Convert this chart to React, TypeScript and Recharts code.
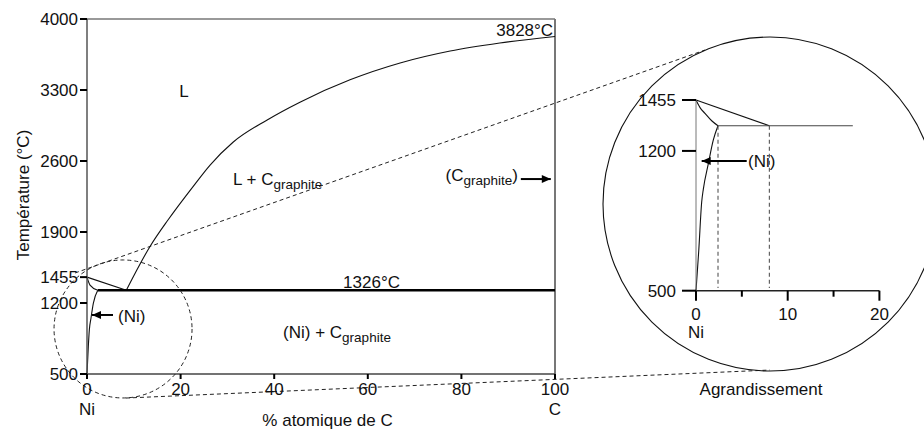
import React from "react";
import { ComposedChart, Line, XAxis, YAxis, ReferenceLine, ReferenceDot } from "recharts";

const FONT = "'Liberation Sans', Arial, Helvetica, sans-serif";

// ---- main diagram: at.% C vs temperature (°C)
const mainXTicks = [0, 20, 40, 60, 80, 100];
const mainXNames = ["Ni", "", "", "", "", "C"];
const mainYTicks = [500, 1200, 1455, 1900, 2600, 3300, 4000];

const niLiquidus = [
  { x: 0, t: 1455 },
  { x: 8.4, t: 1326 },
];
const niSolidus = [
  { x: 0, t: 1455 },
  { x: 0.64, t: 1377 },
  { x: 2.3, t: 1326 },
];
const niSolvus = [
  { x: 0, t: 500 },
  { x: 0.28, t: 770 },
  { x: 0.5, t: 935 },
  { x: 0.85, t: 1050 },
  { x: 1.35, t: 1197 },
  { x: 2.3, t: 1326 },
];
const eutectic = [
  { x: 2.3, t: 1326 },
  { x: 100, t: 1326 },
];
const graphiteLiquidus = [
  { x: 8.4, t: 1326 },
  { x: 13.5, t: 1760 },
  { x: 17.3, t: 2018 },
  { x: 22.7, t: 2350 },
  { x: 26.3, t: 2560 },
  { x: 31.2, t: 2785 },
  { x: 38.5, t: 3005 },
  { x: 45.5, t: 3180 },
  { x: 56.2, t: 3400 },
  { x: 66.9, t: 3566 },
  { x: 77.6, t: 3684 },
  { x: 88.2, t: 3763 },
  { x: 100, t: 3828 },
];
const niArrowMain = [
  { x: 5.56, t: 1082 },
  { x: 1.07, t: 1082 },
];
const graphiteArrow = [
  { x: 92.7, t: 2422 },
  { x: 99.1, t: 2422 },
];
// magnifier lens and its connectors (data coordinates of the main diagram)
const lens = { x: 7.7, t: 944 };
const upperConnector = [
  { x: -2.56, y: 1496 },
  { x: 132.05, y: 3694 },
];
const lowerConnector = [
  { x: 8.33, y: 263 },
  { x: 145.9, y: 539 },
];

// ---- enlarged view (0-20 at.% C)
const zoomXTicks = [0, 5, 10, 15, 20];
const zoomMajor = [0, 10, 20];
const zoomYTicks = [500, 1200, 1455];

const zLiquidus = [
  { x: 0, t: 1455 },
  { x: 8.0, t: 1326 },
];
const zSolidus = [
  { x: 0, t: 1455 },
  { x: 0.44, t: 1417 },
  { x: 0.98, t: 1388 },
  { x: 1.71, t: 1351 },
  { x: 2.4, t: 1326 },
];
const zSolvus = [
  { x: 0, t: 500 },
  { x: 0.3, t: 700 },
  { x: 0.62, t: 944 },
  { x: 0.8, t: 1009 },
  { x: 1.34, t: 1135 },
  { x: 1.89, t: 1255 },
  { x: 2.4, t: 1326 },
];
const zEutectic = [
  { x: 2.4, t: 1326 },
  { x: 17.1, t: 1326 },
];
const zDropLeft = [
  { x: 2.4, t: 1326 },
  { x: 2.4, t: 513 },
];
const zDropRight = [
  { x: 8.0, t: 1326 },
  { x: 8.0, t: 513 },
];
const zArrow = [
  { x: 5.53, t: 1150 },
  { x: 0.62, t: 1150 },
];
const zLens = { x: 8.07, t: 934 };

const arrowHead = (dir: number) => (p: any) => {
  if (p.index !== 1) return <g key={"a" + p.index} />;
  const { cx, cy } = p;
  return (
    <path
      key="head"
      d={`M${cx},${cy} L${cx - dir * 9},${cy - 4} L${cx - dir * 9},${cy + 4} Z`}
      fill="#000"
    />
  );
};

const note = (
  key: string,
  x: number,
  t: number,
  content: React.ReactNode,
  anchor: string = "start",
  rotate = false
) => (
  <ReferenceDot
    key={key}
    x={x}
    y={t}
    r={0}
    ifOverflow="visible"
    shape={(p: any) => (
      <text
        x={p.cx}
        y={p.cy}
        textAnchor={anchor}
        fontSize={17}
        fontFamily={FONT}
        fill="#111"
        transform={rotate ? `rotate(-90 ${p.cx} ${p.cy})` : undefined}
      >
        {content}
      </text>
    )}
  />
);

const sub = (txt: string) => [
  <tspan key="s" dy={4} fontSize={13.5}>
    {txt}
  </tspan>,
];

function mainXTick(p: any) {
  const { x, y, payload, index } = p;
  return (
    <g key={"mx" + index}>
      <line x1={x} y1={y} x2={x} y2={y + 5} stroke="#000" strokeWidth={2} />
      <text x={x} y={y + 21} textAnchor="middle" fontSize={17} fontFamily={FONT} fill="#111">
        {payload.value}
      </text>
      {mainXNames[index] ? (
        <text x={x} y={y + 41} textAnchor="middle" fontSize={17} fontFamily={FONT} fill="#111">
          {mainXNames[index]}
        </text>
      ) : null}
    </g>
  );
}

function zoomXTick(p: any) {
  const { x, y, payload, index } = p;
  const major = zoomMajor.includes(payload.value);
  return (
    <g key={"zx" + index}>
      <line x1={x} y1={y} x2={x} y2={y + (major ? 10 : 6)} stroke="#000" strokeWidth={2} />
      {major ? (
        <text x={x} y={y + 29.5} textAnchor="middle" fontSize={17} fontFamily={FONT} fill="#111">
          {payload.value}
        </text>
      ) : null}
      {payload.value === 0 ? (
        <text x={x} y={y + 47.5} textAnchor="middle" fontSize={17} fontFamily={FONT} fill="#111">
          Ni
        </text>
      ) : null}
    </g>
  );
}

const lineProps = {
  dataKey: "t",
  dot: false,
  activeDot: false,
  isAnimationActive: false,
  stroke: "#111",
  strokeWidth: 1.1,
};

function MainDiagram() {
  return (
    <ComposedChart width={924} height={430} margin={{ top: 19, right: 369, bottom: 26, left: 27 }}>
      <XAxis
        type="number"
        dataKey="x"
        domain={[0, 100]}
        ticks={mainXTicks}
        interval={0}
        height={30}
        axisLine={{ stroke: "#444", strokeWidth: 1.5 }}
        tickLine={false}
        tickSize={0}
        tickMargin={0}
        tick={mainXTick}
      />
      <YAxis
        type="number"
        domain={[500, 4000]}
        ticks={mainYTicks}
        interval={0}
        width={60}
        axisLine={{ stroke: "#555", strokeWidth: 1.5 }}
        tickLine={{ stroke: "#000", strokeWidth: 2 }}
        tickSize={7}
        tickMargin={2}
        tick={{ fill: "#111", fontSize: 17, fontFamily: FONT }}
      />
      <ReferenceLine y={4000} stroke="#777" strokeWidth={1.5} />
      <ReferenceLine x={100} stroke="#777" strokeWidth={2} />

      <Line data={niLiquidus} type="linear" {...lineProps} />
      <Line data={niSolidus} type="monotone" {...lineProps} />
      <Line data={niSolvus} type="monotone" {...lineProps} />
      <Line data={graphiteLiquidus} type="monotone" {...lineProps} />
      <Line data={eutectic} type="linear" {...lineProps} stroke="#000" strokeWidth={2.6} />
      <Line data={niArrowMain} type="linear" {...lineProps} stroke="#000" strokeWidth={2} dot={arrowHead(-1)} />
      <Line data={graphiteArrow} type="linear" {...lineProps} stroke="#000" strokeWidth={2} dot={arrowHead(1)} />

      <ReferenceDot
        x={lens.x}
        y={lens.t}
        r={69}
        ifOverflow="visible"
        fill="none"
        stroke="#222"
        strokeWidth={1}
        strokeDasharray="4 3"
      />
      <ReferenceLine segment={upperConnector} ifOverflow="visible" stroke="#222" strokeDasharray="4 3" />
      <ReferenceLine segment={lowerConnector} ifOverflow="visible" stroke="#222" strokeDasharray="4 3" />

      {note("L", 20.7, 3231, "L", "middle")}
      {note("LC", 31.2, 2363, ["L + C", ...sub("graphite")])}
      {note(
        "Cg",
        92.1,
        2403,
        [
          "(C",
          ...sub("graphite"),
          <tspan key="c" dy={-4}>
            )
          </tspan>,
        ],
        "end"
      )}
      {note("tm", 99.6, 3832, "3828°C", "end")}
      {note("te", 60.8, 1348, "1326°C", "middle")}
      {note("NiC", 41.9, 855, ["(Ni) + C", ...sub("graphite")])}
      {note("Ni", 6.62, 1016, "(Ni)")}
      {note("yt", -12.39, 2265, "Température (°C)", "middle", true)}
      {note("xt", 51.4, -13, "% atomique de C", "middle")}
    </ComposedChart>
  );
}

function ZoomDiagram() {
  return (
    <ComposedChart width={924} height={430} margin={{ top: 100, right: 44.6, bottom: 109.3, left: 636 }}>
      <XAxis
        type="number"
        dataKey="x"
        domain={[0, 20]}
        ticks={zoomXTicks}
        interval={0}
        height={30}
        axisLine={{ stroke: "#222", strokeWidth: 1.5 }}
        tickLine={false}
        tickSize={0}
        tickMargin={0}
        tick={zoomXTick}
      />
      <YAxis
        type="number"
        domain={[500, 1455]}
        ticks={zoomYTicks}
        interval={0}
        width={60}
        axisLine={{ stroke: "#777", strokeWidth: 1 }}
        tickLine={{ stroke: "#000", strokeWidth: 2 }}
        tickSize={14}
        tickMargin={6}
        tick={{ fill: "#111", fontSize: 17, fontFamily: FONT }}
      />

      <Line data={zLiquidus} type="linear" {...lineProps} />
      <Line data={zSolidus} type="monotone" {...lineProps} />
      <Line data={zSolvus} type="monotone" {...lineProps} />
      <Line data={zEutectic} type="linear" {...lineProps} stroke="#444" />
      <Line data={zDropLeft} type="linear" {...lineProps} stroke="#555" strokeDasharray="4 3" />
      <Line data={zDropRight} type="linear" {...lineProps} stroke="#555" strokeDasharray="4 3" />
      <Line data={zArrow} type="linear" {...lineProps} stroke="#000" strokeWidth={2} dot={arrowHead(-1)} />

      <ReferenceDot
        x={zLens.x}
        y={zLens.t}
        r={167}
        ifOverflow="visible"
        fill="none"
        stroke="#111"
        strokeWidth={1.1}
      />

      {note("zNi", 5.67, 1121, "(Ni)")}
      {note("ag", 7.09, -22, "Agrandissement", "middle")}
    </ComposedChart>
  );
}

export default function App() {
  return (
    <div style={{ position: "absolute", left: 0, top: 0, width: 924, height: 430, background: "#fff" }}>
      <div style={{ position: "absolute", left: 0, top: 0 }}>
        <MainDiagram />
      </div>
      <div style={{ position: "absolute", left: 0, top: 0 }}>
        <ZoomDiagram />
      </div>
    </div>
  );
}
